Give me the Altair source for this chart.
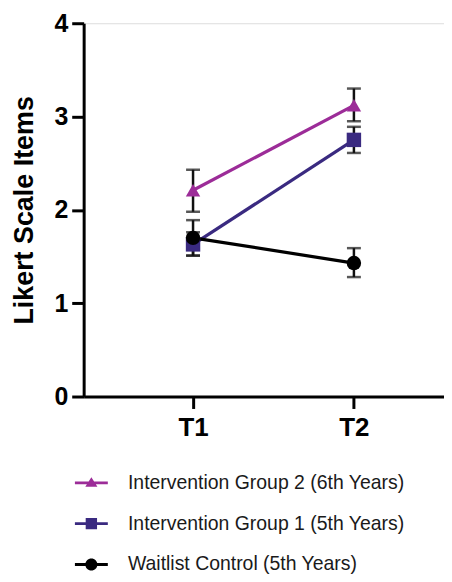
import altair as alt
import pandas as pd

groups = [
    "Intervention Group 2 (6th Years)",
    "Intervention Group 1 (5th Years)",
    "Waitlist Control (5th Years)",
]
times = ["T1", "T2"]

ig2_mean = [2.21, 3.12]
ig2_low = [1.98, 2.95]
ig2_high = [2.43, 3.30]

ig1_mean = [1.63, 2.75]
ig1_low = [1.51, 2.61]
ig1_high = [1.76, 2.89]

wc_mean = [1.70, 1.43]
wc_low = [1.51, 1.28]
wc_high = [1.89, 1.59]

colors = ["#9C2C98", "#3A2A80", "#000000"]
shapes = ["triangle-up", "square", "circle"]
legend_paths = [
    "M-1.74,-0.15H1.74V0.15H-1.74Z M0,-0.6L0.64,0.42H-0.64Z",
    "M-1.74,-0.15H1.74V0.15H-1.74Z M-0.6,-0.6H0.6V0.6H-0.6Z",
    "M-1.74,-0.15H1.74V0.15H-1.74Z M0.64,0A0.64,0.64 0 1,1 -0.64,0A0.64,0.64 0 1,1 0.64,0Z",
]

rows = []
for g, m, lo, hi in [
    (groups[0], ig2_mean, ig2_low, ig2_high),
    (groups[1], ig1_mean, ig1_low, ig1_high),
    (groups[2], wc_mean, wc_low, wc_high),
]:
    for i, t in enumerate(times):
        rows.append({"group": g, "time": t, "t": i + 1, "mean": m[i], "lo": lo[i], "hi": hi[i]})
df = pd.DataFrame(rows)

FONT = "Liberation Sans"

x_enc = alt.X(
    "t:Q",
    scale=alt.Scale(domain=[0.32, 2.56], nice=False, zero=False),
    axis=alt.Axis(
        values=[1, 2],
        labelExpr="datum.value == 1 ? 'T1' : 'T2'",
        title=None,
        grid=False,
        tickSize=12,
        tickWidth=3,
        tickColor="black",
        domainWidth=3,
        domainColor="black",
        labelFontSize=26,
        labelFontWeight="bold",
        labelFont=FONT,
        labelColor="black",
        labelPadding=6,
    ),
)
y_axis = alt.Axis(
    values=[0, 1, 2, 3, 4],
    format="d",
    title="Likert Scale Items",
    titleFontSize=27,
    titleFontWeight="bold",
    titleFont=FONT,
    titleColor="black",
    titlePadding=15,
    grid=False,
    tickSize=12,
    tickWidth=3,
    tickColor="black",
    domainWidth=3,
    domainColor="black",
    labelFontSize=25,
    labelFontWeight="bold",
    labelFont=FONT,
    labelColor="black",
    labelPadding=4,
)
y_scale = alt.Scale(domain=[0, 4], nice=False)
color_scale = alt.Scale(domain=groups, range=colors)

base = alt.Chart(df)

err = base.mark_rule(color="#111111", strokeWidth=2.5).encode(
    x=x_enc, y=alt.Y("lo:Q", scale=y_scale, axis=y_axis), y2="hi:Q"
)
cap_lo = base.mark_tick(color="#111111", thickness=2.5, size=14, orient="horizontal").encode(
    x="t:Q", y="lo:Q"
)
cap_hi = base.mark_tick(color="#111111", thickness=2.5, size=14, orient="horizontal").encode(
    x="t:Q", y="hi:Q"
)
lines = base.mark_line(strokeWidth=3.2).encode(
    x="t:Q",
    y="mean:Q",
    color=alt.Color("group:N", scale=color_scale, legend=None),
    detail="group:N",
)
points = base.mark_point(filled=True, size=210, opacity=1).encode(
    x="t:Q",
    y="mean:Q",
    color=alt.Color("group:N", scale=color_scale, legend=None),
    shape=alt.Shape("group:N", scale=alt.Scale(domain=groups, range=shapes), legend=None),
)

leg = alt.Legend(
    title=None,
    orient="none",
    legendX=-2,
    legendY=452,
    direction="vertical",
    padding=0,
    symbolSize=361,
    symbolStrokeWidth=0,
    symbolOpacity=1,
    labelFontSize=19.5,
    labelFont=FONT,
    labelColor="#1a1a1a",
    labelOffset=27,
    rowPadding=20,
    labelLimit=400,
)
legend_layer = base.mark_point(filled=True, opacity=1).transform_filter("false").encode(
    color=alt.Color("group:N", scale=color_scale, legend=leg),
    shape=alt.Shape("group:N", scale=alt.Scale(domain=groups, range=legend_paths), legend=leg),
)

chart = (
    alt.layer(err, cap_lo, cap_hi, lines, points, legend_layer)
    .resolve_scale(color="independent", shape="independent")
    .properties(width=362, height=375, padding={"left": 3, "top": 2, "right": 0, "bottom": 0})
    .configure_view(stroke=None)
    .configure(font=FONT)
)

chart.save("out.html", embed_options={"renderer": "svg", "actions": False})
